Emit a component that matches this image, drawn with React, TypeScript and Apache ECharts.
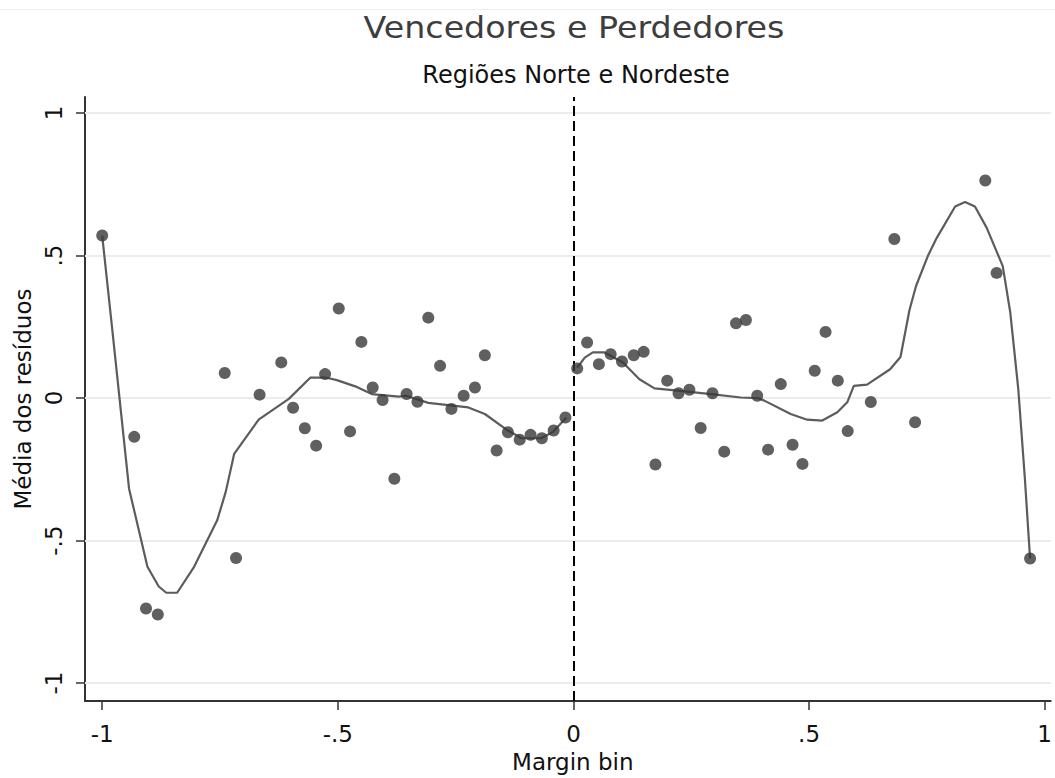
import React, { useEffect, useRef } from "react";
import * as echarts from "echarts";

const titleText = "Vencedores e Perdedores";
const subtitleText = "Regiões Norte e Nordeste";
const xAxisName = "Margin bin";
const yAxisName = "Média dos resíduos";

const tickValues = [-1, -0.5, 0, 0.5, 1];
const tickLabels = ["-1", "-.5", "0", ".5", "1"];

// binned means (margin bin, mean residual)
const binX = [
  -1.0, -0.932, -0.907, -0.882, -0.74, -0.716, -0.666, -0.62, -0.595, -0.57, -0.546,
  -0.527, -0.498, -0.474, -0.45, -0.426, -0.405, -0.38, -0.354, -0.331, -0.308, -0.283,
  -0.259, -0.233, -0.209, -0.188, -0.163, -0.139, -0.114, -0.091, -0.067, -0.042, -0.017,
  0.008, 0.029, 0.054, 0.079, 0.103, 0.128, 0.149, 0.174, 0.199, 0.223, 0.246, 0.27,
  0.295, 0.32, 0.345, 0.366, 0.39, 0.413, 0.44, 0.465, 0.486, 0.512, 0.535, 0.561, 0.582,
  0.631, 0.681, 0.725, 0.874, 0.898, 0.969,
];
const binY = [
  0.57, -0.136, -0.738, -0.759, 0.088, -0.561, 0.012, 0.125, -0.034, -0.106, -0.167,
  0.084, 0.314, -0.117, 0.197, 0.037, -0.007, -0.283, 0.014, -0.013, 0.282, 0.113,
  -0.038, 0.008, 0.037, 0.15, -0.184, -0.12, -0.146, -0.129, -0.141, -0.114, -0.068,
  0.104, 0.195, 0.119, 0.154, 0.128, 0.15, 0.162, -0.233, 0.061, 0.017, 0.029, -0.105,
  0.017, -0.188, 0.262, 0.274, 0.008, -0.181, 0.049, -0.164, -0.231, 0.096, 0.232, 0.061,
  -0.116, -0.014, 0.558, -0.085, 0.763, 0.439, -0.563,
];

// lowess fit, left of cutoff
const fitLeftX = [
  -1.0, -0.978, -0.943, -0.904, -0.88, -0.864, -0.841, -0.805, -0.756, -0.738, -0.72,
  -0.668, -0.604, -0.558, -0.526, -0.502, -0.463, -0.428, -0.371, -0.355, -0.308,
  -0.223, -0.188, -0.139, -0.11, -0.068, -0.043, -0.015,
];
const fitLeftY = [
  0.57, 0.23, -0.318, -0.592, -0.661, -0.683, -0.683, -0.592, -0.429, -0.33, -0.196,
  -0.076, -0.003, 0.072, 0.072, 0.063, 0.041, 0.014, 0.005, 0.008, -0.017,
  -0.033, -0.056, -0.114, -0.141, -0.141, -0.118, -0.068,
];
// lowess fit, right of cutoff
const fitRightX = [
  0.008, 0.024, 0.041, 0.066, 0.105, 0.14, 0.172, 0.221, 0.292, 0.355, 0.391, 0.405,
  0.461, 0.496, 0.528, 0.56, 0.581, 0.595, 0.623, 0.672, 0.694, 0.713, 0.727, 0.752,
  0.771, 0.81, 0.831, 0.852, 0.877, 0.911, 0.927, 0.944, 0.958, 0.969,
];
const fitRightY = [
  0.107, 0.142, 0.16, 0.16, 0.125, 0.066, 0.034, 0.026, 0.014, 0.002, 0.0, -0.009,
  -0.056, -0.076, -0.079, -0.05, -0.015, 0.043, 0.047, 0.101, 0.144, 0.308, 0.393, 0.498,
  0.562, 0.672, 0.688, 0.672, 0.597, 0.463, 0.3, 0.031, -0.283, -0.563,
];

const FONT = "'DejaVu Sans', 'Liberation Sans', Arial, sans-serif";

export default function App() {
  const ref = useRef<HTMLDivElement>(null);
  useEffect(() => {
    document.body.style.margin = "0";
    const chart = echarts.init(ref.current!, null, { renderer: "svg" });
    const zip = (xs: number[], ys: number[]) => xs.map((x, i) => [x, ys[i]]);
    const fitData = [
      ...zip(fitLeftX, fitLeftY),
      [null, null],
      ...zip(fitRightX, fitRightY),
    ];
    const fmt = (v: number) => {
      const i = tickValues.findIndex((t) => Math.abs(t - v) < 1e-9);
      return i >= 0 ? tickLabels[i] : "";
    };
    chart.setOption({
      animation: false,
      backgroundColor: "#ffffff",
      textStyle: { fontFamily: FONT },
      graphic: [
        {
          type: "line",
          shape: { x1: 0, y1: 9.5, x2: 1055, y2: 9.5 },
          style: { stroke: "#eeeeee", lineWidth: 1 },
          silent: true,
        },
        {
          type: "text",
          x: 574,
          y: 28,
          scaleX: 1.11,
          silent: true,
          style: {
            text: titleText,
            fontFamily: FONT,
            fontSize: 30,
            fill: "#3d3d3d",
            align: "center",
            verticalAlign: "middle",
          },
        },
        {
          type: "text",
          x: 576,
          y: 75,
          silent: true,
          style: {
            text: subtitleText,
            fontFamily: FONT,
            fontSize: 24,
            fill: "#111111",
            align: "center",
            verticalAlign: "middle",
          },
        },
      ],
      grid: { left: 85, right: 0, top: 97, bottom: 75, containLabel: false },
      xAxis: {
        type: "value",
        min: -1.0365,
        max: 1.0127,
        name: xAxisName,
        nameLocation: "middle",
        nameGap: 45,
        nameTextStyle: { fontFamily: FONT, fontSize: 23, color: "#111", padding: [0, 0, 0, 10] },
        axisLine: { show: true, onZero: false, lineStyle: { color: "#333", width: 2 } },
        axisTick: { show: true, length: 9, customValues: tickValues, lineStyle: { color: "#333", width: 1.5 } },
        axisLabel: {
          customValues: tickValues,
          formatter: fmt,
          fontFamily: FONT,
          fontSize: 23,
          color: "#111",
          margin: 21,
        },
        splitLine: { show: false },
      },
      yAxis: {
        type: "value",
        min: -1.063,
        max: 1.056,
        name: yAxisName,
        nameLocation: "middle",
        nameGap: 38,
        nameTextStyle: { fontFamily: FONT, fontSize: 23, color: "#111" },
        axisLine: { show: true, onZero: false, lineStyle: { color: "#333", width: 2 } },
        axisTick: { show: true, length: 9, customValues: tickValues, lineStyle: { color: "#333", width: 1.5 } },
        axisLabel: {
          customValues: tickValues,
          formatter: fmt,
          rotate: 90,
          fontFamily: FONT,
          fontSize: 23,
          color: "#111",
          margin: 20,
        },
        splitLine: { show: false },
      },
      series: [
        {
          type: "line",
          data: fitData,
          showSymbol: false,
          connectNulls: false,
          z: 2,
          lineStyle: { color: "#5c5c5c", width: 2.2 },
          silent: true,
          markLine: {
            silent: true,
            symbol: "none",
            label: { show: false },
            z: 1,
            data: [
              ...tickValues.map((v) => ({
                yAxis: v,
                lineStyle: { color: "#ececec", width: 2, type: "solid" },
              })),
              { xAxis: 0, lineStyle: { color: "#000", width: 2, type: [10, 5] } },
            ],
          },
        },
        {
          type: "scatter",
          data: zip(binX, binY),
          symbol: "circle",
          symbolSize: 12,
          z: 3,
          itemStyle: { color: "#383838" },
          silent: true,
        },
      ],
    });
    return () => chart.dispose();
  }, []);
  return (
    <div
      ref={ref}
      style={{ position: "fixed", left: 0, top: 0, width: 1055, height: 778 }}
    />
  );
}
